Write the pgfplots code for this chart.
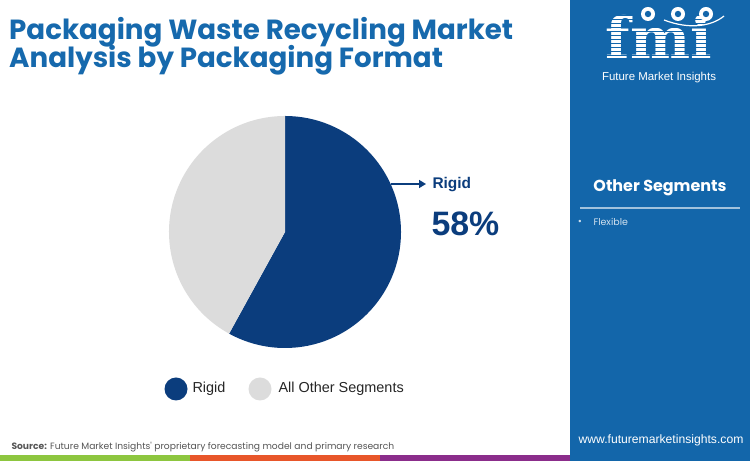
\documentclass[border=0pt]{standalone}
\usepackage{pgfplots}
\pgfplotsset{compat=1.18}
\usepackage{pgfplotstable}
\usepackage{fontspec}
\setmainfont{Liberation Sans}
\newfontfamily\pop{Poppins}
\newfontfamily\popb{Poppins}[UprightFont=* Bold]
\newfontfamily\logo{DejaVu Serif}[UprightFont=* Bold]
\usetikzlibrary{arrows.meta}

\definecolor{navy}{HTML}{0B3D7D}
\definecolor{lightgrey}{HTML}{DCDCDC}
\definecolor{titleblue}{HTML}{1669AD}
\definecolor{panel}{HTML}{1366AA}
\definecolor{srcgrey}{HTML}{555555}
\definecolor{barg}{HTML}{8DC63F}
\definecolor{baro}{HTML}{E8562A}
\definecolor{barp}{HTML}{8B2D8B}

% market shares by packaging format
\pgfplotstableread{
share label
58    Rigid
42    Other
}\piedata

\begin{document}
\begin{tikzpicture}[x=1bp,y=1bp]
\pgfplotstablegetelem{0}{share}\of\piedata
\pgfmathsetmacro\angA{90-3.6*\pgfplotsretval}
\pgfplotstablegetelem{1}{share}\of\piedata
\pgfmathsetmacro\angB{\angA-3.6*\pgfplotsretval}

\path[use as bounding box, fill=white] (0,0) rectangle (750,461);

% right panel
\fill[panel] (570,0) rectangle (750,461);

% bottom colour bar
\fill[barg] (0,0) rectangle (190,6);
\fill[baro] (190,0) rectangle (380,6);
\fill[barp] (380,0) rectangle (570,6);

% title
\node[anchor=west, text=titleblue, font=\popb\fontsize{27.8}{30}\selectfont, inner sep=0] at (9,429) {Packaging Waste Recycling Market};
\node[anchor=west, text=titleblue, font=\popb\fontsize{27.8}{30}\selectfont, inner sep=0] at (9,401) {Analysis by Packaging Format};

% pie
\begin{axis}[
    at={(285,229)}, anchor=origin,
    x=1bp, y=1bp,
    xmin=-120, xmax=120, ymin=-120, ymax=120,
    hide axis, clip=false,
]
\fill[navy] (axis cs:0,0) -- (axis cs:0,116) arc[start angle=90, end angle=\angA, radius=116bp] -- cycle;
\fill[lightgrey] (axis cs:0,0) -- (axis cs:{116*cos(\angA)},{116*sin(\angA)}) arc[start angle=\angA, end angle=\angB, radius=116bp] -- cycle;
\end{axis}

% slice label
\draw[navy, line width=1.6bp, -{Triangle[length=7bp,width=8bp]}] (391,277) -- (426,277);
\node[anchor=west, text=navy, font=\bfseries\fontsize{15.5}{16}\selectfont] at (429,276) {Rigid};
\node[anchor=west, text=navy, font=\bfseries\fontsize{34}{34}\selectfont] at (428,237) {58\%};

% legend
\fill[navy] (176,72) circle (11.5);
\node[anchor=west, text=black!85, font=\fontsize{14.5}{15}\selectfont] at (189,72) {Rigid};
\fill[lightgrey] (260,72) circle (11.5);
\node[anchor=west, text=black!85, font=\fontsize{14.5}{15}\selectfont] at (275,72) {All Other Segments};

% source
\node[anchor=west, text=srcgrey, font=\pop\fontsize{9.2}{10}\selectfont] at (8,14) {{\popb Source:} Future Market Insights' proprietary forecasting model and primary research};

% logo
\node[text=white, font=\logo\fontsize{57}{57}\selectfont, inner sep=0, anchor=base] at (659,402) {fmi};
\foreach \yy in {405,409,...,445} \fill[panel] (590,\yy) rectangle (730,\yy+1.3);
\foreach \xx in {648,678,706} {
  \fill[white] (\xx,447) circle (7);
  \fill[panel] (\xx,447) circle (3.2);
}
\draw[white, line width=1.2bp] (664,441) .. controls (690,431) and (712,435) .. (724,445);
\node[text=white, font=\fontsize{11.5}{12}\selectfont, inner sep=0] at (659,383) {Future Market Insights};

% other segments
\node[text=white, font=\popb\fontsize{16}{17}\selectfont] at (660,273) {Other Segments};
\draw[white!60!panel, line width=1.3bp] (580,253) -- (740,253);
\node[text=white!80!panel, font=\fontsize{9}{10}\selectfont] at (580,239) {\textbullet};
\node[anchor=west, text=white!80!panel, font=\pop\fontsize{9.5}{10}\selectfont] at (590,239) {Flexible};

\node[text=white, font=\fontsize{12.2}{13}\selectfont] at (661,21) {www.futuremarketinsights.com};
\end{tikzpicture}
\end{document}
